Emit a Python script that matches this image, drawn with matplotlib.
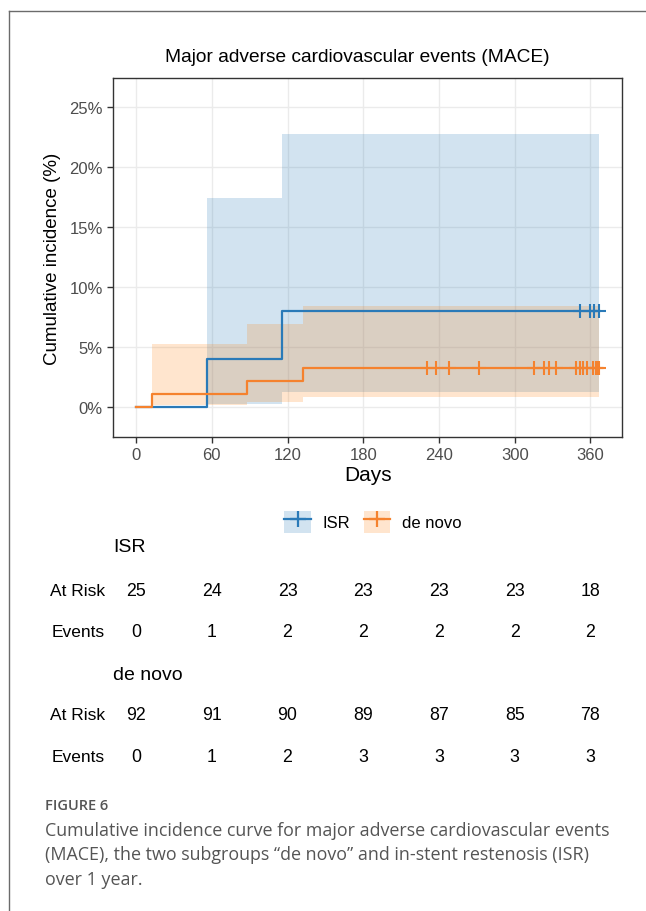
import numpy as np
import matplotlib
matplotlib.use("Agg")
import matplotlib.pyplot as plt
from matplotlib.lines import Line2D
from matplotlib.patches import Patch
from matplotlib.legend_handler import HandlerTuple
import matplotlib.transforms as mtransforms

plt.rcParams['font.family'] = ['Liberation Sans', 'DejaVu Sans']

# ISR curve (days, cumulative incidence %)
isr_time = [0, 56.5, 116, 367]
isr_est = [0, 4.0, 8.0, 8.0]
isr_low = [0, 0.3, 1.3, 1.3]
isr_up = [0, 17.4, 22.8, 22.8]
isr_cens = [351.7, 359.8, 363, 366.4]

# de novo curve
dn_time = [0, 12.4, 87.7, 132, 367]
dn_est = [0, 1.09, 2.17, 3.26, 3.26]
dn_low = [0, 0.15, 0.42, 0.83, 0.83]
dn_up = [0, 5.3, 6.9, 8.4, 8.4]
dn_cens = [230.5, 237.4, 247.6, 271.7, 315, 323.2, 327.1, 332.7,
           348.3, 351.7, 354.3, 357.5, 362.3, 364.1, 365.4, 366.7]

# risk table
tab_days = [0, 60, 120, 180, 240, 300, 360]
isr_risk = [25, 24, 23, 23, 23, 23, 18]
isr_events = [0, 1, 2, 2, 2, 2, 2]
dn_risk = [92, 91, 90, 89, 87, 85, 78]
dn_events = [0, 1, 2, 3, 3, 3, 3]

blue = "#2a7ab8"
orange = "#f5822e"
W, H = 646, 912

fig = plt.figure(figsize=(W / 100, H / 100), dpi=100)
fig.patch.set_facecolor("white")

def fx(px):
    return px / W

def fy(py):
    return 1 - py / H

# page frame
fig.add_artist(Line2D([fx(9.3), fx(9.3)], [fy(11.7), 0], color="#6b6b6b", lw=1.0))
fig.add_artist(Line2D([fx(9.3), 1], [fy(11.7), fy(11.7)], color="#6b6b6b", lw=1.0))

ax = fig.add_axes([fx(113.3), fy(437.7), fx(622.3) - fx(113.3), fy(79.3) - fy(437.7)])

ax.fill_between(isr_time, isr_low, isr_up, step="post", color="#1f77b4", alpha=0.2, lw=0)
ax.fill_between(dn_time, dn_low, dn_up, step="post", color="#ff7f0e", alpha=0.2, lw=0)
ax.step(isr_time[:-1] + [isr_cens[-1]], isr_est[:-1] + [isr_est[-1]], where="post", color=blue, lw=1.6)
ax.step(dn_time[:-1] + [dn_cens[-1]], dn_est[:-1] + [dn_est[-1]], where="post", color=orange, lw=1.6)
ax.plot(isr_cens, [isr_est[-1]] * len(isr_cens), ls="none", marker="+", ms=9.5, mew=1.5, color=blue)
ax.plot(dn_cens, [dn_est[-1]] * len(dn_cens), ls="none", marker="+", ms=9.5, mew=1.5, color=orange)

ax.set_xlim(-18, 385.2)
ax.set_ylim(-2.45, 27.4)
ax.set_xticks(tab_days)
ax.set_yticks([0, 5, 10, 15, 20, 25])
ax.set_yticklabels([f"{v}%" for v in [0, 5, 10, 15, 20, 25]])
ax.grid(True, color="#ebebeb", lw=1.0)
ax.set_axisbelow(True)
for s in ax.spines.values():
    s.set_color("#333333")
    s.set_linewidth(1.0)
ax.tick_params(colors="#333333", labelcolor="#4d4d4d", labelsize=12, length=4, width=1.0)
ax.set_xlabel("Days", fontsize=15, color="black", labelpad=2)
ax.set_ylabel("Cumulative incidence (%)", fontsize=13.5, color="black", labelpad=6)

fig.text(fx(357), fy(57), "Major adverse cardiovascular events (MACE)", ha="center", va="center",
         fontsize=13.8, color="black")

# legend
h_isr = (Patch(facecolor="#1f77b4", alpha=0.2, lw=0), Line2D([], [], color=blue, marker="+", ms=12, mew=1.6, lw=1.6))
h_dn = (Patch(facecolor="#ff7f0e", alpha=0.2, lw=0), Line2D([], [], color=orange, marker="+", ms=12, mew=1.6, lw=1.6))
fig.legend([h_isr, h_dn], ["ISR", "de novo"], handler_map={tuple: HandlerTuple(ndivide=1, pad=0)},
           loc="center", bbox_to_anchor=(fx(373), fy(523)), ncol=2, frameon=False, fontsize=12,
           handlelength=1.6, handleheight=1.6, handletextpad=0.7, columnspacing=0.8)

# risk table
trans = mtransforms.blended_transform_factory(ax.transData, fig.transFigure)
rows = [("ISR", 548, None),
        ("At Risk", 592, isr_risk),
        ("Events", 633, isr_events),
        ("de novo", 675, None),
        ("At Risk", 716, dn_risk),
        ("Events", 757, dn_events)]
for label, py, vals in rows:
    if vals is None:
        fig.text(fx(113), fy(py), label, ha="left", va="center", fontsize=14, color="black")
    else:
        fig.text(fx(105), fy(py), label, ha="right", va="center", fontsize=12.5, color="black")
        for d, v in zip(tab_days, vals):
            fig.text(d, fy(py), str(v), transform=trans, ha="center", va="center", fontsize=12.8, color="black")

# caption
cap_font = ['Open Sans', 'DejaVu Sans']
fig.text(fx(45), fy(806), "FIGURE 6", ha="left", va="center", fontsize=10.5, fontweight="semibold",
         color="#555555", family=cap_font)
cap_lines = ["Cumulative incidence curve for major adverse cardiovascular events",
             "(MACE), the two subgroups \u201cde novo\u201d and in-stent restenosis (ISR)",
             "over 1 year."]
for i, line in enumerate(cap_lines):
    fig.text(fx(45), fy(831 + 24.3 * i), line, ha="left", va="center", fontsize=12.9,
             color="#555555", family=cap_font)

fig.savefig("out.png", dpi=100)
